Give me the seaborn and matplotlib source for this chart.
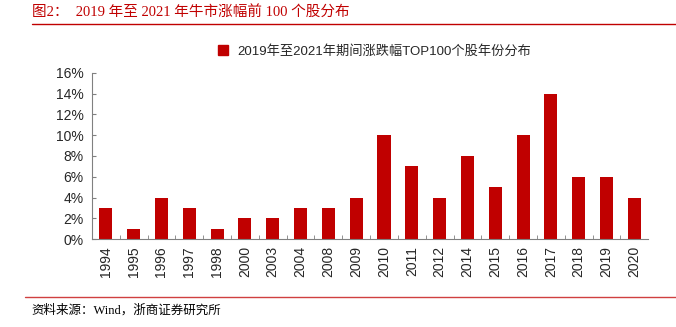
import matplotlib
matplotlib.use("Agg")
import matplotlib.pyplot as plt
import seaborn as sns
import pandas as pd
from matplotlib.ticker import FuncFormatter, MultipleLocator
from matplotlib.lines import Line2D

years = ["1994", "1995", "1996", "1997", "1998", "2000", "2003", "2004", "2008", "2009",
         "2010", "2011", "2012", "2014", "2015", "2016", "2017", "2018", "2019", "2020"]
shares = [3, 1, 4, 3, 1, 2, 2, 3, 3, 4, 10, 7, 4, 8, 5, 10, 14, 6, 6, 4]
series_name = "2019年至2021年期间涨跌幅TOP100个股年份分布"
title = "图2：  2019 年至 2021 年牛市涨幅前 100 个股分布"
source = "资料来源：Wind，浙商证券研究所"

sns.set_style("white")
plt.rcParams['font.family'] = ['Liberation Sans', 'Noto Sans CJK SC']
serif = ['Liberation Serif', 'Noto Sans CJK SC']

red = "#C00000"
df = pd.DataFrame({"year": years, "share": shares})

fig = plt.figure(figsize=(6.76, 3.27), dpi=100)
ax = fig.add_axes([0.136, 0.269, 0.823, 0.508])
sns.barplot(data=df, x="year", y="share", color=red, width=0.47, ax=ax,
            saturation=1, linewidth=0)

ax.set_ylim(0, 16)
ax.set_xlim(-0.5, len(years) - 0.5)
ax.yaxis.set_major_locator(MultipleLocator(2))
ax.yaxis.set_major_formatter(FuncFormatter(lambda v, p: f"{int(v)}%"))
ax.set_xlabel("")
ax.set_ylabel("")
for s in ["top", "right"]:
    ax.spines[s].set_visible(False)
for s in ["left", "bottom"]:
    ax.spines[s].set_color("#808080")
    ax.spines[s].set_linewidth(0.8)

ax.tick_params(axis="y", direction="in", length=3, color="#808080", labelsize=10, left=True, pad=6)
ax.tick_params(axis="x", which="major", length=0, labelsize=10, rotation=90, pad=5)
ax.set_xticks([i + 0.5 for i in range(len(years) - 1)], minor=True)
ax.tick_params(axis="x", which="minor", direction="in", length=3, color="#808080", bottom=True)

leg = ax.legend(handles=[Line2D([], [], marker="s", color=red, linestyle="", markersize=7)],
                labels=[series_name], loc="lower center", bbox_to_anchor=(0.5, 1.05),
                frameon=False, fontsize=9.5, handletextpad=0.1, borderpad=0)

fig.text(0.047, 0.963, title, color=red, fontsize=10.5, va="center", ha="left", family=serif)
fig.add_artist(Line2D([0.047, 1.0], [0.928, 0.928], color=red, linewidth=1.0, transform=fig.transFigure))
fig.add_artist(Line2D([0.037, 1.0], [0.092, 0.092], color="#D04040", linewidth=1.0, transform=fig.transFigure))
fig.text(0.047, 0.05, source, color="black", fontsize=9, va="center", ha="left", family=serif)

fig.savefig("out.png", dpi=100)
